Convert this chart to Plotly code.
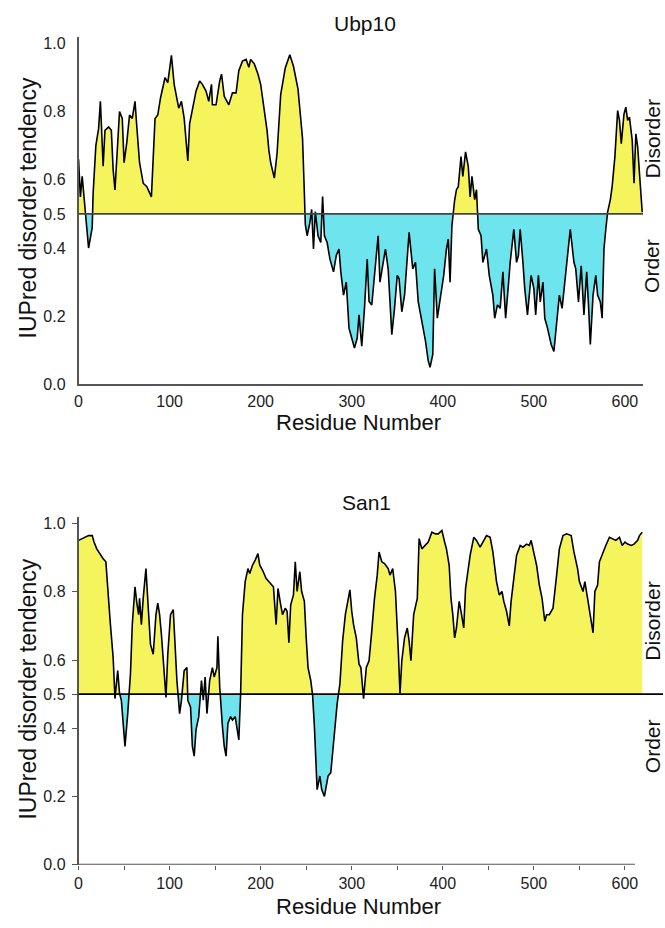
import numpy as np
import plotly.graph_objects as go

# ---------------- data ----------------
ubp_res = [0, 2, 4, 7, 11, 15, 16, 19, 22, 24, 27, 29, 33, 36, 38, 40, 43, 45, 48, 50,
           53, 56, 59, 62, 64, 67, 71, 75, 80, 82, 84, 87, 90, 95, 98, 102, 105, 110, 113, 116,
           120, 122, 125, 129, 133, 136, 140, 143, 146, 147, 151, 155, 157, 160, 165, 169, 173, 176, 180, 184,
           187, 189, 193, 197, 200, 204, 207, 209, 211, 215, 218, 222, 227, 232, 236, 241, 245, 246, 248, 249,
           251, 254, 256, 258, 260, 263, 266, 268, 270, 273, 276, 280, 283, 286, 288, 291, 294, 297, 300, 303,
           306, 308, 311, 314, 317, 319, 322, 326, 329, 331, 334, 337, 340, 344, 347, 350, 352, 355, 358, 361,
           363, 367, 370, 373, 377, 381, 384, 386, 389, 391, 394, 397, 401, 404, 406, 408, 410, 413, 415, 417,
           420, 422, 425, 428, 430, 432, 435, 437, 439, 442, 444, 448, 451, 455, 457, 460, 463, 466, 469, 472,
           474, 478, 481, 483, 485, 488, 490, 493, 497, 500, 502, 505, 507, 510, 512, 515, 519, 522, 525, 528,
           531, 535, 540, 544, 546, 549, 552, 555, 558, 560, 562, 565, 568, 570, 573, 575, 577, 579, 581, 584,
           586, 589, 592, 594, 596, 599, 601, 603, 605, 608, 610, 612, 614, 616, 619]
ubp_val = [0.66, 0.55, 0.61, 0.51, 0.40, 0.46, 0.56, 0.70, 0.75, 0.83, 0.64, 0.745, 0.755, 0.745, 0.63, 0.57, 0.70, 0.80, 0.78, 0.65,
           0.71, 0.79, 0.78, 0.83, 0.755, 0.65, 0.59, 0.58, 0.55, 0.65, 0.78, 0.79, 0.84, 0.90, 0.885, 0.965, 0.88, 0.81, 0.83, 0.78,
           0.655, 0.765, 0.81, 0.86, 0.89, 0.88, 0.86, 0.83, 0.88, 0.82, 0.82, 0.89, 0.91, 0.845, 0.82, 0.855, 0.855, 0.92, 0.948, 0.953,
           0.93, 0.953, 0.94, 0.91, 0.88, 0.81, 0.745, 0.687, 0.65, 0.605, 0.677, 0.85, 0.928, 0.967, 0.933, 0.866, 0.76, 0.72, 0.56, 0.47,
           0.436, 0.474, 0.513, 0.397, 0.507, 0.436, 0.416, 0.551, 0.436, 0.416, 0.368, 0.33, 0.378, 0.397, 0.33, 0.262, 0.30, 0.165, 0.136, 0.107,
           0.136, 0.204, 0.112, 0.223, 0.368, 0.243, 0.233, 0.349, 0.436, 0.30, 0.349, 0.397, 0.339, 0.146, 0.223, 0.32, 0.31, 0.213, 0.262, 0.378,
           0.446, 0.339, 0.358, 0.243, 0.185, 0.127, 0.069, 0.05, 0.088, 0.339, 0.194, 0.243, 0.32, 0.397, 0.426, 0.30, 0.465, 0.54, 0.571, 0.58,
           0.668, 0.61, 0.682, 0.639, 0.55, 0.61, 0.542, 0.571, 0.455, 0.436, 0.358, 0.397, 0.32, 0.261, 0.194, 0.233, 0.223, 0.33, 0.194, 0.29,
           0.358, 0.455, 0.358, 0.378, 0.455, 0.358, 0.281, 0.204, 0.32, 0.281, 0.204, 0.32, 0.242, 0.30, 0.194, 0.165, 0.117, 0.097, 0.185, 0.262,
           0.223, 0.32, 0.455, 0.358, 0.339, 0.242, 0.348, 0.204, 0.33, 0.233, 0.117, 0.262, 0.32, 0.262, 0.242, 0.194, 0.397, 0.455, 0.505, 0.542,
           0.581, 0.668, 0.803, 0.774, 0.706, 0.793, 0.813, 0.774, 0.784, 0.716, 0.59, 0.735, 0.697, 0.619, 0.505]

san_res = [0, 4, 7, 11, 15, 17, 20, 24, 27, 30, 32, 35, 38, 40, 43, 45, 47, 49, 51, 54,
           57, 59, 62, 64, 66, 67, 69, 71, 74, 77, 79, 82, 85, 87, 89, 91, 94, 96, 98, 101,
           104, 106, 108, 111, 113, 116, 119, 120, 123, 125, 127, 129, 132, 135, 137, 139, 141, 144, 147, 149,
           152, 153, 155, 158, 160, 162, 164, 167, 169, 172, 174, 176, 178, 180, 183, 186, 188, 191, 194, 197,
           199, 202, 206, 209, 212, 214, 217, 219, 222, 224, 227, 229, 231, 233, 236, 238, 240, 243, 245, 248,
           250, 252, 255, 257, 259, 261, 262, 265, 267, 270, 272, 274, 277, 279, 282, 284, 287, 290, 293, 295,
           298, 300, 302, 305, 308, 310, 313, 316, 319, 322, 325, 328, 330, 333, 336, 340, 342, 345, 348, 351,
           353, 355, 358, 361, 363, 365, 368, 372, 374, 377, 381, 384, 388, 392, 395, 399, 402, 404, 407, 409,
           411, 413, 415, 418, 420, 423, 425, 427, 430, 434, 437, 441, 444, 448, 452, 455, 459, 462, 465, 467,
           470, 473, 475, 478, 481, 485, 488, 492, 495, 497, 500, 503, 506, 509, 512, 514, 517, 521, 525, 528,
           532, 536, 541, 544, 548, 550, 554, 556, 559, 562, 565, 567, 570, 572, 576, 579, 583, 587, 590, 594,
           597, 600, 603, 607, 610, 614, 616, 619]
san_val = [0.951, 0.956, 0.96, 0.965, 0.965, 0.946, 0.926, 0.907, 0.897, 0.888, 0.801, 0.704, 0.607, 0.487, 0.569, 0.502, 0.482, 0.424, 0.347, 0.443,
           0.56, 0.704, 0.815, 0.767, 0.733, 0.781, 0.704, 0.781, 0.868, 0.733, 0.646, 0.617, 0.733, 0.767, 0.733, 0.675, 0.578, 0.49, 0.617, 0.733,
           0.748, 0.656, 0.54, 0.443, 0.482, 0.569, 0.578, 0.482, 0.462, 0.347, 0.318, 0.395, 0.434, 0.54, 0.482, 0.55, 0.443, 0.54, 0.578, 0.55,
           0.578, 0.67, 0.521, 0.405, 0.347, 0.318, 0.414, 0.434, 0.424, 0.434, 0.405, 0.366, 0.502, 0.733, 0.83, 0.868, 0.854, 0.878, 0.893, 0.912,
           0.878, 0.864, 0.839, 0.83, 0.82, 0.815, 0.704, 0.81, 0.762, 0.733, 0.752, 0.743, 0.651, 0.762, 0.791, 0.888, 0.801, 0.859, 0.801, 0.772,
           0.665, 0.578, 0.54, 0.497, 0.405, 0.268, 0.22, 0.26, 0.22, 0.2, 0.23, 0.26, 0.27, 0.327, 0.414, 0.472, 0.53, 0.656, 0.733, 0.762,
           0.806, 0.743, 0.704, 0.665, 0.588, 0.578, 0.487, 0.578, 0.598, 0.685, 0.781, 0.849, 0.917, 0.888, 0.883, 0.868, 0.849, 0.868, 0.801, 0.637,
           0.502, 0.598, 0.665, 0.694, 0.656, 0.598, 0.733, 0.781, 0.956, 0.926, 0.936, 0.946, 0.975, 0.97, 0.97, 0.98, 0.946, 0.926, 0.878, 0.781,
           0.733, 0.665, 0.694, 0.772, 0.743, 0.694, 0.81, 0.849, 0.907, 0.96, 0.951, 0.931, 0.946, 0.965, 0.96, 0.917, 0.83, 0.791, 0.801, 0.772,
           0.743, 0.70, 0.772, 0.849, 0.907, 0.936, 0.931, 0.94, 0.936, 0.951, 0.917, 0.878, 0.82, 0.781, 0.714, 0.733, 0.733, 0.752, 0.849, 0.926,
           0.965, 0.97, 0.965, 0.917, 0.868, 0.83, 0.801, 0.83, 0.781, 0.733, 0.68, 0.801, 0.82, 0.888, 0.917, 0.936, 0.96, 0.956, 0.951, 0.96,
           0.936, 0.946, 0.94, 0.936, 0.94, 0.951, 0.965, 0.975]

titles = ["Ubp10", "San1"]
y_tickvals = [0.0, 0.2, 0.4, 0.5, 0.6, 0.8, 1.0]
y_ticktext = ["0.0", "0.2", "0.4", "0.5", "0.6", "0.8", "1.0"]
x_tickvals = [0, 100, 200, 300, 400, 500, 600]
threshold = 0.5

YELLOW = "#F6F45C"
CYAN = "#6EE4EF"
FONT = "Liberation Sans, Arial, Helvetica, sans-serif"
W, H = 665, 928


def px(X):
    return X / W


def py(Y):
    return 1 - Y / H


def split_at(x, y, b):
    xs, ys = [x[0]], [y[0]]
    for i in range(1, len(x)):
        if (y[i - 1] - b) * (y[i] - b) < 0:
            t = (b - y[i - 1]) / (y[i] - y[i - 1])
            xs.append(x[i - 1] + t * (x[i] - x[i - 1]))
            ys.append(b)
        xs.append(x[i])
        ys.append(y[i])
    return np.array(xs), np.array(ys)


fig = go.Figure()


def add_panel(res, val, xa, ya):
    xs, ys = split_at(res, val, threshold)
    base = np.full_like(ys, threshold)
    common = dict(xaxis=xa, yaxis=ya, mode="lines", showlegend=False, hoverinfo="skip")
    fig.add_trace(go.Scatter(x=xs, y=base, line=dict(width=0, color=YELLOW), **common))
    fig.add_trace(go.Scatter(x=xs, y=np.maximum(ys, threshold), fill="tonexty",
                             fillcolor=YELLOW, line=dict(width=0, color=YELLOW), **common))
    fig.add_trace(go.Scatter(x=xs, y=base, line=dict(width=0, color=CYAN), **common))
    fig.add_trace(go.Scatter(x=xs, y=np.minimum(ys, threshold), fill="tonexty",
                             fillcolor=CYAN, line=dict(width=0, color=CYAN), **common))
    fig.add_trace(go.Scatter(x=res, y=val, mode="lines", showlegend=False,
                             line=dict(color="black", width=1.6), xaxis=xa, yaxis=ya))


add_panel(ubp_res, ubp_val, "x", "y")
add_panel(san_res, san_val, "x2", "y2")

xdom = [px(75), px(643)]
top_dom = [py(387), py(35)]
bot_dom = [py(873), py(521)]
tickfont = dict(family=FONT, size=16, color="#222")

fig.update_layout(
    width=W, height=H, margin=dict(l=0, r=0, t=0, b=0),
    paper_bgcolor="white", plot_bgcolor="white",
    xaxis=dict(domain=xdom, range=[0, 620], anchor="y", showgrid=False, zeroline=False,
               showline=True, linecolor="#555", linewidth=1.6, tickvals=x_tickvals,
               ticks="", ticklabelstandoff=2, tickfont=tickfont),
    yaxis=dict(domain=top_dom, range=[0, 1.02], anchor="x", showgrid=False, zeroline=False,
               showline=True, linecolor="#555", linewidth=1.6, tickvals=y_tickvals,
               ticktext=y_ticktext, ticks="", ticklabelstandoff=8, tickfont=tickfont),
    xaxis2=dict(domain=xdom, range=[0, 620], anchor="y2", showgrid=False, zeroline=False,
                showline=False, tickvals=[v for v in range(0, 601, 50)],
                ticktext=[str(v) if v % 100 == 0 else "" for v in range(0, 601, 50)],
                ticks="outside", ticklen=4, tickcolor="#555", tickfont=tickfont),
    yaxis2=dict(domain=bot_dom, range=[0, 1.02], anchor="x2", showgrid=False, zeroline=False,
                showline=True, linecolor="#555", linewidth=1.6, tickvals=y_tickvals,
                ticktext=y_ticktext, ticks="outside", ticklen=5, tickcolor="#555",
                ticklabelstandoff=3, tickfont=tickfont),
)

# threshold lines and bottom x-axis line
fig.add_shape(type="line", xref="x", yref="y", x0=0, x1=620, y0=threshold, y1=threshold,
              line=dict(color="#444", width=1.6))
fig.add_shape(type="line", xref="paper", yref="y2", x0=px(75), x1=px(663), y0=threshold,
              y1=threshold, line=dict(color="black", width=1.6))
fig.add_shape(type="line", xref="x2", yref="y2", x0=0, x1=611, y0=0, y1=0,
              line=dict(color="#555", width=1.6))

ann = [
    (titles[0], 363, 22, 0, 21),
    (titles[1], 365, 506, 0, 21),
    ("IUPred disorder tendency", 24, 208, -90, 23),
    ("IUPred disorder tendency", 24, 695, -90, 23),
    ("Residue Number", 357, 426, 0, 22),
    ("Residue Number", 357, 915, 0, 22),
    ("Disorder", 652, 139, -90, 21),
    ("Order", 652, 267, -90, 21),
    ("Disorder", 652, 627, -90, 21),
    ("Order", 652, 753, -90, 21),
]
for text, X, Y, ang, sz in ann:
    fig.add_annotation(text=text, x=px(X), y=py(Y), xref="paper", yref="paper",
                       showarrow=False, textangle=ang, xanchor="center", yanchor="middle",
                       font=dict(family=FONT, size=sz, color="#111"))

# drop the browser's default page margin so the 665x928 figure fills the window
fig.write_html("out.html",
               config={"displayModeBar": False},
               post_script="document.body.style.margin='0';"
                           "document.body.style.overflow='hidden';")
